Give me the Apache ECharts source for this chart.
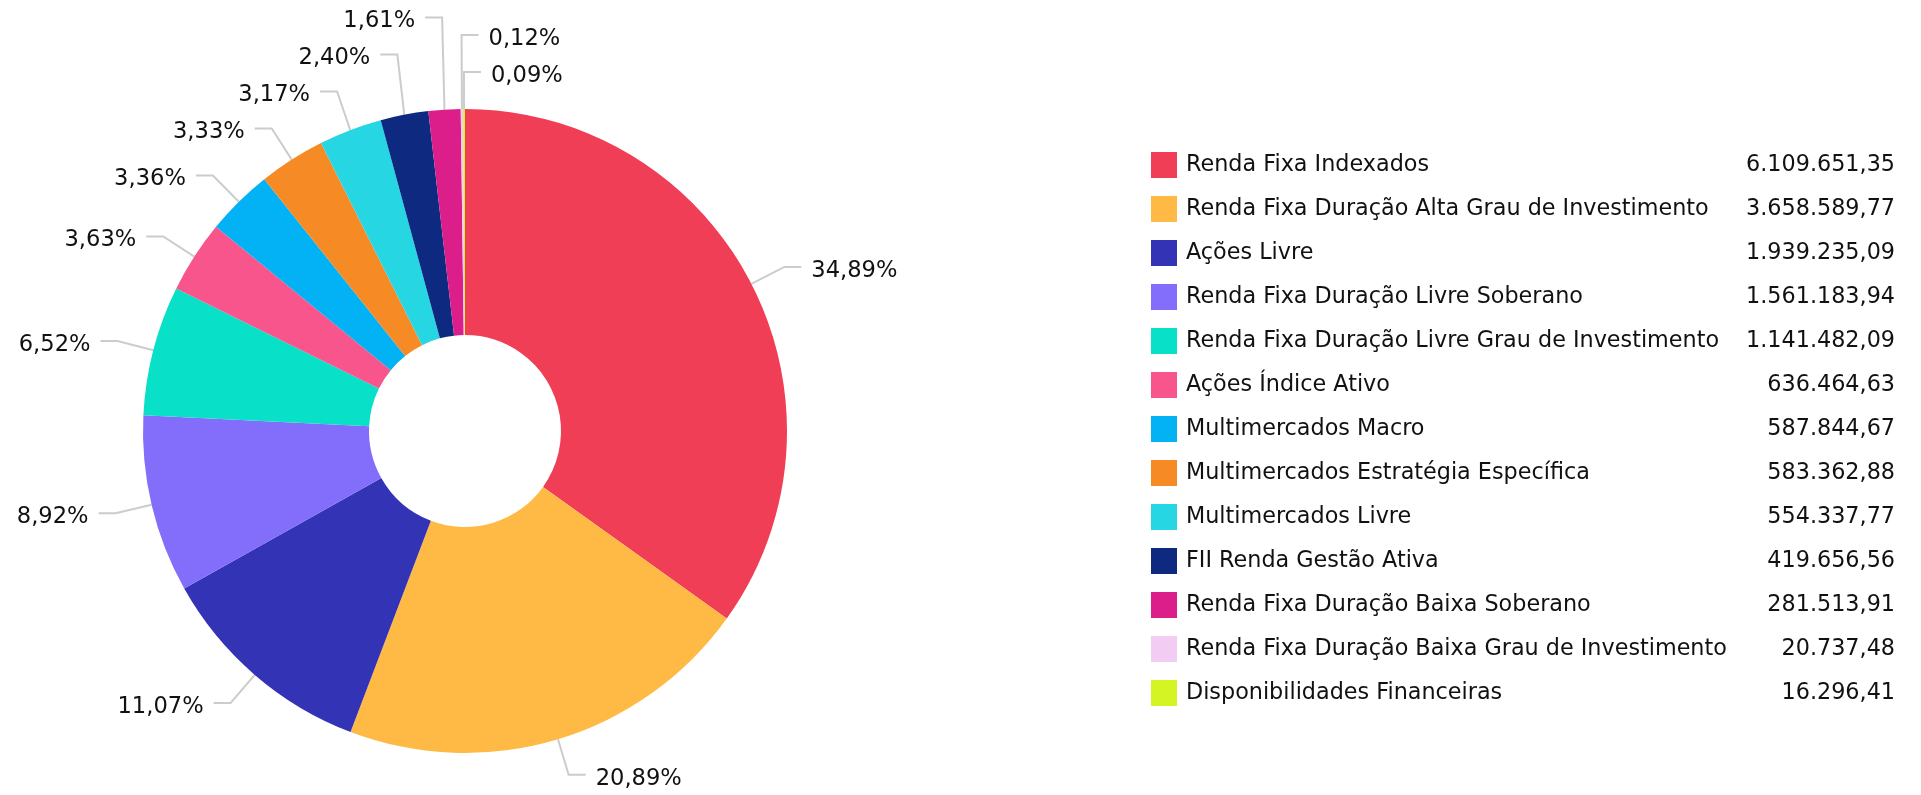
<!DOCTYPE html>
<html>
<head>
<meta charset="utf-8">
<script src="https://cdn.jsdelivr.net/npm/echarts@6/dist/echarts.min.js"></script>
<style>
  html, body { margin: 0; padding: 0; background: #fff; }
  #main { width: 1921px; height: 795px; }
</style>
</head>
<body>
<div id="main"></div>
<script>
const categories = [
  'Renda Fixa Indexados',
  'Renda Fixa Duração Alta Grau de Investimento',
  'Ações Livre',
  'Renda Fixa Duração Livre Soberano',
  'Renda Fixa Duração Livre Grau de Investimento',
  'Ações Índice Ativo',
  'Multimercados Macro',
  'Multimercados Estratégia Específica',
  'Multimercados Livre',
  'FII Renda Gestão Ativa',
  'Renda Fixa Duração Baixa Soberano',
  'Renda Fixa Duração Baixa Grau de Investimento',
  'Disponibilidades Financeiras'
];
const values = [
  6109651.35, 3658589.77, 1939235.09, 1561183.94, 1141482.09, 636464.63,
  587844.67, 583362.88, 554337.77, 419656.56, 281513.91, 20737.48, 16296.41
];
const colors = [
  '#EF3E55', '#FFBA45', '#3333B5', '#836EFB', '#08E0C7', '#F7558C',
  '#03B2F4', '#F68B26', '#26D6E3', '#0E2A80', '#DB1E8A', '#F2CCF2', '#D4F523'
];

// formato brasileiro 1.234.567,89
const fmtBR = (v) => {
  const parts = v.toFixed(2).split('.');
  return parts[0].replace(/\B(?=(\d{3})+(?!\d))/g, '.') + ',' + parts[1];
};

const cx = 465, cy = 431, rIn = 96, rOut = 322;
const lineLen = 37, lineLen2 = 17, slot = 37;

// posicao dos rotulos, distribuidos por lado (estilo "empurra pra cima")
const total = values.reduce((a, b) => a + b, 0);
const labelPos = [];
(function () {
  let acc = 0;
  const items = values.map((v, i) => {
    const mid = (acc + v / 2) / total * 2 * Math.PI;
    acc += v;
    const s = Math.sin(mid), c = Math.cos(mid);
    return {
      i: i,
      mid: mid,
      side: s > -0.03 ? 1 : -1,
      edge: [cx + rOut * s, cy - rOut * c],
      ex: cx + (rOut + lineLen) * s,
      ey: cy - (rOut + lineLen) * c
    };
  });
  [1, -1].forEach((side) => {
    const list = items.filter((it) => it.side === side);
    // ordena de cima pra baixo
    list.sort((a, b) => {
      const ka = side > 0 ? (a.mid > Math.PI ? a.mid - 2 * Math.PI : a.mid) : -a.mid;
      const kb = side > 0 ? (b.mid > Math.PI ? b.mid - 2 * Math.PI : b.mid) : -b.mid;
      return ka - kb;
    });
    let next = Infinity;
    for (let k = list.length - 1; k >= 0; k--) {
      const it = list[k];
      it.y = Math.min(it.ey, next - slot);
      next = it.y;
    }
    list.forEach((it) => { labelPos[it.i] = it; });
  });
})();

const chart = echarts.init(document.getElementById('main'));
const fontFamily = '"DejaVu Sans", Verdana, sans-serif';

const option = {
  color: colors,
  animation: false,
  textStyle: { fontFamily: fontFamily },
  legend: {
    orient: 'vertical',
    left: 1151,
    top: 152,
    padding: 0,
    icon: 'rect',
    itemWidth: 26,
    itemHeight: 26,
    itemGap: 18,
    selectedMode: false,
    formatter: (name) => {
      const i = categories.indexOf(name);
      return '{n|' + name + '}{v|' + fmtBR(values[i]) + '}';
    },
    textStyle: {
      rich: {
        n: { fontFamily: fontFamily, fontSize: 22.3, color: '#111', width: 560, lineHeight: 26, padding: [0, 0, 0, 4] },
        v: { fontFamily: fontFamily, fontSize: 22.3, color: '#111', width: 149, align: 'right', lineHeight: 26 }
      }
    }
  },
  series: [
    {
      type: 'pie',
      center: [cx, cy],
      radius: [rIn, rOut],
      startAngle: 90,
      clockwise: true,
      avoidLabelOverlap: false,
      label: {
        show: true,
        fontFamily: fontFamily,
        fontSize: 22.6,
        color: '#111',
        formatter: (p) => p.percent.toFixed(2).replace('.', ',') + '%'
      },
      labelLine: {
        show: true,
        length: lineLen,
        length2: lineLen2,
        lineStyle: { color: '#cccccc', width: 2 }
      },
      labelLayout: (params) => {
        const p = labelPos[params.dataIndex];
        const endX = p.ex + p.side * lineLen2;
        return {
          x: endX + p.side * 10,
          y: p.y + 4,
          align: p.side > 0 ? 'left' : 'right',
          verticalAlign: 'middle',
          labelLinePoints: [p.edge, [p.ex, p.y], [endX, p.y]]
        };
      },
      emphasis: { disabled: true },
      data: categories.map((c, i) => ({ name: c, value: values[i] }))
    }
  ]
};
chart.setOption(option);
</script>
</body>
</html>
